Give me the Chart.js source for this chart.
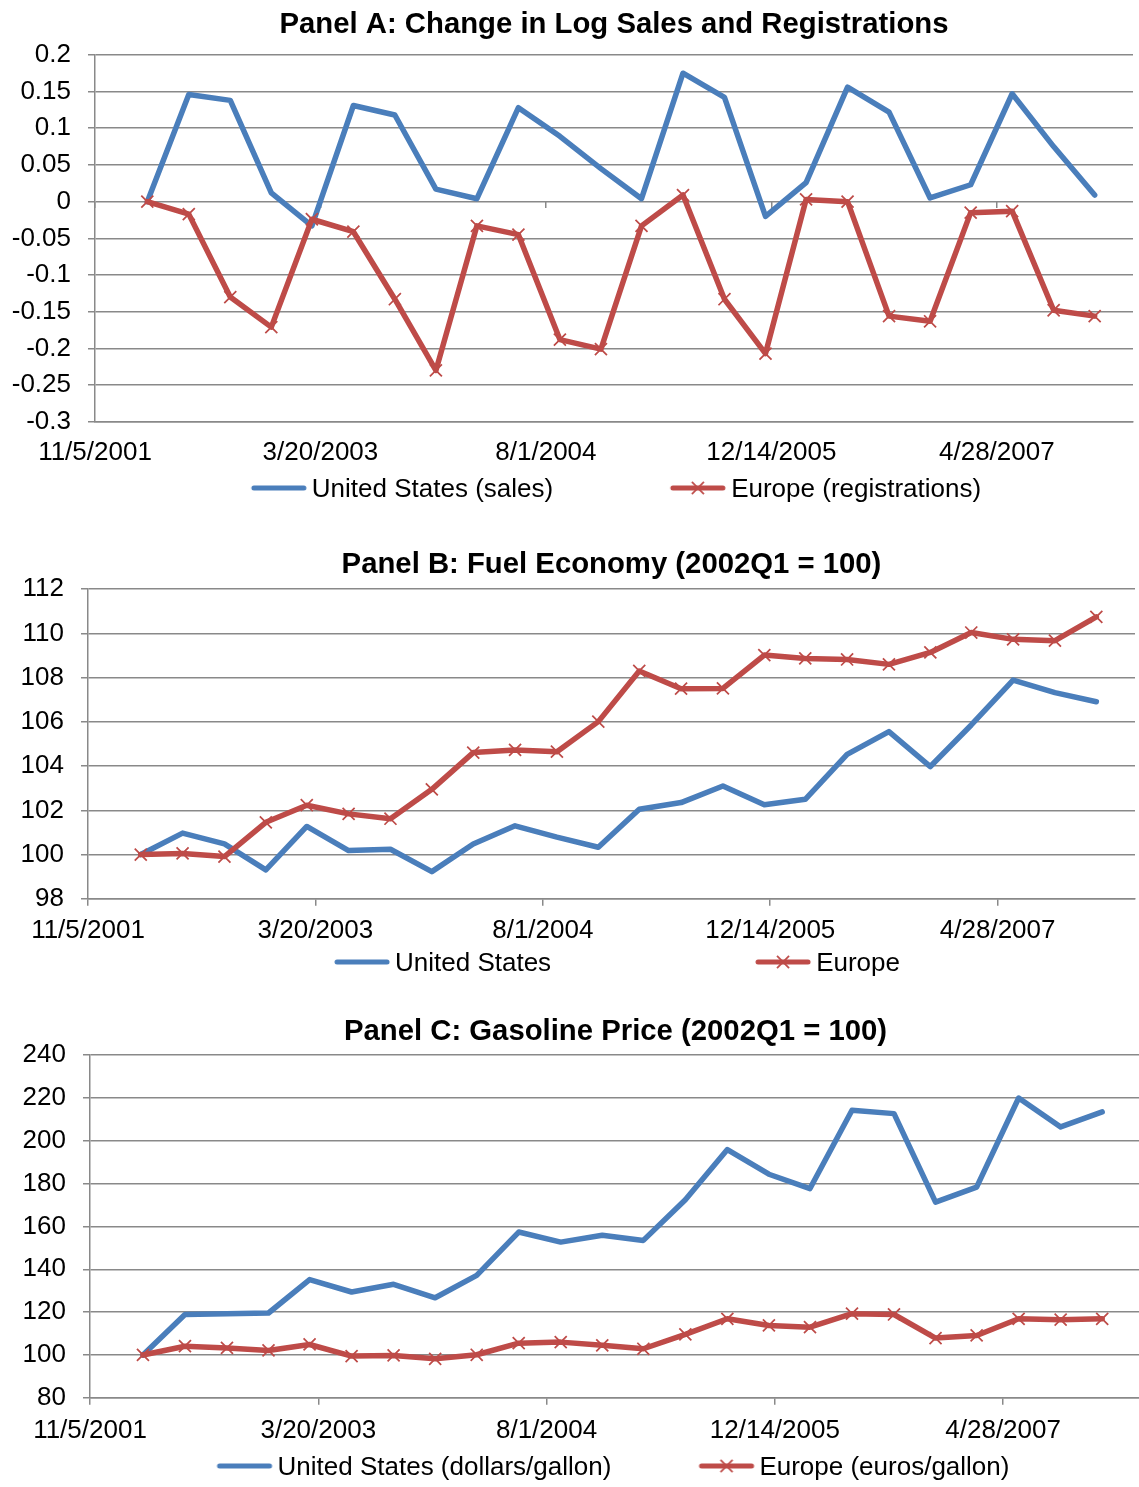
<!DOCTYPE html>
<html>
<head>
<meta charset="utf-8">
<title>Panels A-C</title>
<script src="https://cdn.jsdelivr.net/npm/chart.js@4.4.1/dist/chart.umd.min.js"></script>
<style>
  html, body { margin: 0; padding: 0; background: #fff; overflow: hidden; width: 1139px; height: 1487px; }
  .panel { position: absolute; left: 0; }
  .legend { position: absolute; display: flex; align-items: center; transform: translateX(-50%);
            white-space: nowrap; font-family: 'Liberation Sans', Arial, Helvetica, sans-serif;
            font-size: 26px; line-height: 30px; height: 30px; color: #000; }
  .legend .item { display: flex; align-items: center; }
  .legend canvas { display: block; margin-right: 5px; }
</style>
</head>
<body>
<div class="panel" style="top:0px"><canvas id="chartA" width="1139" height="483"></canvas></div>
<div class="legend" id="legendA" style="top:473px; left:616px; gap:117px"></div>

<div class="panel" style="top:540px"><canvas id="chartB" width="1139" height="415"></canvas></div>
<div class="legend" id="legendB" style="top:947px; left:617px; gap:204px"></div>

<div class="panel" style="top:1007px"><canvas id="chartC" width="1142" height="449"></canvas></div>
<div class="legend" id="legendC" style="top:1451px; left:613px; gap:87px"></div>

<script>
// ---------------- DATA ----------------
const axisStartDate = '2001-11-05';
const axisEndDays = 2302;
const tickStepDays = 500;
const xTickLabels = ['11/5/2001', '3/20/2003', '8/1/2004', '12/14/2005', '4/28/2007'];

const quarterDates = [
  '2002-03-01', '2002-06-01', '2002-09-01', '2002-12-01',
  '2003-03-01', '2003-06-01', '2003-09-01', '2003-12-01',
  '2004-03-01', '2004-06-01', '2004-09-01', '2004-12-01',
  '2005-03-01', '2005-06-01', '2005-09-01', '2005-12-01',
  '2006-03-01', '2006-06-01', '2006-09-01', '2006-12-01',
  '2007-03-01', '2007-06-01', '2007-09-01', '2007-12-01'
];

// Panel A: change in log sales / registrations
const usSales = [0, 0.146, 0.138, 0.012, -0.033, 0.131, 0.118, 0.017, 0.004, 0.128, 0.089, 0.045,
                 0.004, 0.175, 0.142, -0.020, 0.026, 0.156, 0.122, 0.005, 0.023, 0.147, 0.075, 0.009];
const euRegistrations = [0, -0.017, -0.130, -0.171, -0.024, -0.041, -0.133, -0.230, -0.033, -0.045, -0.188, -0.201,
                         -0.033, 0.009, -0.133, -0.207, 0.003, 0.000, -0.156, -0.163, -0.015, -0.013, -0.148, -0.156];

// Panel B: fuel economy (2002Q1 = 100)
const usFuelEconomy = [100, 100.97, 100.48, 99.31, 101.27, 100.18, 100.24, 99.23, 100.48, 101.30, 100.79, 100.33,
                       102.05, 102.35, 103.10, 102.25, 102.50, 104.53, 105.56, 103.98, 105.86, 107.89, 107.32, 106.91];
const euFuelEconomy = [100, 100.05, 99.91, 101.46, 102.23, 101.84, 101.62, 102.95, 104.61, 104.73, 104.65, 106.01,
                       108.30, 107.50, 107.51, 109.02, 108.87, 108.82, 108.60, 109.14, 110.04, 109.73, 109.67, 110.75];

// Panel C: gasoline price (2002Q1 = 100)
const usGasPrice = [100, 118.9, 119.3, 119.6, 135.2, 129.4, 133.0, 126.7, 137.2, 157.4, 152.7, 155.9,
                    153.5, 172.5, 195.9, 184.4, 177.7, 214.3, 212.7, 171.4, 178.4, 220.0, 206.5, 213.5];
const euGasPrice = [100, 104.1, 103.3, 102.1, 104.9, 99.5, 99.8, 98.2, 100.1, 105.5, 106.0, 104.5,
                    102.9, 109.6, 116.9, 113.8, 113.0, 119.3, 118.9, 107.9, 109.1, 116.9, 116.5, 116.9];

// ---------------- STYLE ----------------
const FONT = "'Liberation Sans', Arial, Helvetica, sans-serif";
const GRID = '#898989';
const BLUE = '#4A7EBB';
const RED = '#BE4B48';

function dayOffset(s) {
  const p = s.split('-').map(Number);
  const b = axisStartDate.split('-').map(Number);
  return Math.round((Date.UTC(p[0], p[1] - 1, p[2]) - Date.UTC(b[0], b[1] - 1, b[2])) / 86400000);
}
const xDays = quarterDates.map(dayOffset);
const pts = vals => vals.map((v, i) => ({ x: xDays[i], y: v }));

function usSeries(label, vals) {
  return { label, data: pts(vals), borderColor: BLUE, backgroundColor: BLUE, borderWidth: 5.5,
           pointRadius: 0, pointHoverRadius: 0, tension: 0, order: 2,
           borderCapStyle: 'round', borderJoinStyle: 'round' };
}
function euSeries(label, vals) {
  return { label, data: pts(vals), borderColor: RED, backgroundColor: RED, borderWidth: 5.5,
           pointStyle: 'crossRot', pointRadius: 8.5, pointHoverRadius: 8.5, pointBorderWidth: 1.75,
           pointBorderColor: RED, pointBackgroundColor: RED, tension: 0, order: 1,
           borderCapStyle: 'round', borderJoinStyle: 'round' };
}

const setDateTicks = s => { s.ticks = xTickLabels.map((_, i) => ({ value: i * tickStepDays })); };
const xTickLabel = (v, i) => (xTickLabels[i] !== undefined ? xTickLabels[i] : '');

function makeChart(id, cfg) {
  const scales = {
    x: {
      type: 'linear', min: 0, max: axisEndDays,
      afterBuildTicks: setDateTicks,
      ticks: { autoSkip: false, maxRotation: 0, minRotation: 0,
               color: '#000', font: { family: FONT, size: 26 }, padding: cfg.xPad, callback: xTickLabel },
      grid: { display: true, drawOnChartArea: false, drawTicks: cfg.xTicks, tickLength: cfg.xTicks ? 7 : 0,
              color: GRID, lineWidth: 1.5, tickColor: GRID, tickWidth: 1.5 },
      border: { display: true, color: GRID, width: 1.5 }
    },
    y: {
      type: 'linear', min: cfg.yMin, max: cfg.yMax,
      ticks: { stepSize: cfg.yStep, color: '#000', font: { family: FONT, size: 26 }, padding: 17,
               callback: cfg.yFmt },
      grid: { color: GRID, lineWidth: 1.5, drawTicks: true, tickLength: 7, tickColor: GRID, tickWidth: 1.5 },
      border: { display: true, color: GRID, width: 1.5 },
      afterFit: s => { s.width = cfg.yWidth; }
    }
  };
  if (cfg.zeroAxis) {
    scales.x0 = {
      type: 'linear', axis: 'x', position: { y: 0 }, min: 0, max: axisEndDays,
      afterBuildTicks: setDateTicks,
      ticks: { display: false },
      grid: { display: true, drawOnChartArea: false, drawTicks: true, tickLength: 6,
              color: GRID, lineWidth: 1.5, tickColor: GRID, tickWidth: 1.5 },
      border: { display: false }
    };
  }
  return new Chart(document.getElementById(id), {
    type: 'line',
    data: { datasets: cfg.datasets },
    options: {
      responsive: false, animation: false, devicePixelRatio: 1,
      layout: { autoPadding: false, padding: { left: 0, right: cfg.padR, top: 0, bottom: 0 } },
      plugins: {
        legend: { display: false },
        tooltip: { enabled: false },
        title: { display: true, text: cfg.title, fullSize: false, color: '#000',
                 font: { family: FONT, size: 29.3, weight: 'bold', lineHeight: 1.2 },
                 padding: { top: 7.6, bottom: cfg.titlePadB } }
      },
      scales
    }
  });
}

function buildLegend(chart, elId) {
  const el = document.getElementById(elId);
  chart.data.datasets.forEach(ds => {
    const item = document.createElement('span');
    item.className = 'item';
    const c = document.createElement('canvas');
    c.width = 56; c.height = 18;
    const g = c.getContext('2d');
    g.strokeStyle = ds.borderColor;
    g.lineWidth = 5;
    g.lineCap = 'round';
    g.beginPath(); g.moveTo(3, 9); g.lineTo(53, 9); g.stroke();
    if (ds.pointStyle === 'crossRot') {
      const r = ds.pointRadius * Math.SQRT1_2;
      g.lineWidth = ds.pointBorderWidth;
      g.lineCap = 'butt';
      g.beginPath();
      g.moveTo(28 - r, 9 - r); g.lineTo(28 + r, 9 + r);
      g.moveTo(28 - r, 9 + r); g.lineTo(28 + r, 9 - r);
      g.stroke();
    }
    const t = document.createElement('span');
    t.textContent = ds.label;
    item.appendChild(c); item.appendChild(t);
    el.appendChild(item);
  });
}

const fmtA = v => String(parseFloat(Number(v).toFixed(2)));

const chartA = makeChart('chartA', {
  title: 'Panel A: Change in Log Sales and Registrations',
  datasets: [usSeries('United States (sales)', usSales), euSeries('Europe (registrations)', euRegistrations)],
  yMin: -0.3, yMax: 0.2, yStep: 0.05, yFmt: fmtA, yWidth: 95, padR: 6,
  xPad: 15, xTicks: false, titlePadB: 12.1, zeroAxis: true
});
const chartB = makeChart('chartB', {
  title: 'Panel B: Fuel Economy (2002Q1 = 100)',
  datasets: [usSeries('United States', usFuelEconomy), euSeries('Europe', euFuelEconomy)],
  yMin: 98, yMax: 112, yStep: 2, yFmt: v => String(v), yWidth: 88, padR: 4,
  xPad: 9, xTicks: true, titlePadB: 6.4, zeroAxis: false
});
const chartC = makeChart('chartC', {
  title: 'Panel C: Gasoline Price (2002Q1 = 100)',
  datasets: [usSeries('United States (dollars/gallon)', usGasPrice), euSeries('Europe (euros/gallon)', euGasPrice)],
  yMin: 80, yMax: 240, yStep: 20, yFmt: v => String(v), yWidth: 90, padR: 1,
  xPad: 10, xTicks: true, titlePadB: 5.4, zeroAxis: false
});

buildLegend(chartA, 'legendA');
buildLegend(chartB, 'legendB');
buildLegend(chartC, 'legendC');
</script>
</body>
</html>
